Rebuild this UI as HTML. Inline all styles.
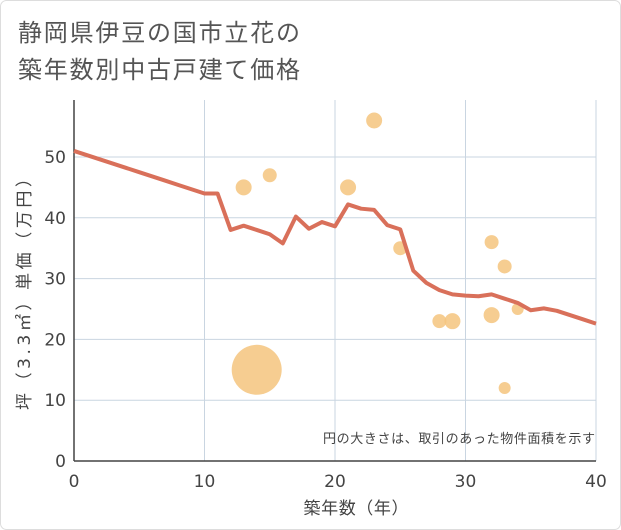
<!DOCTYPE html>
<html><head><meta charset="utf-8"><style>
body{margin:0;background:#fff;}
svg{display:block;font-family:"DejaVu Sans","Noto Sans CJK JP",sans-serif;}
</style></head><body>
<svg id="c" width="621" height="530">
<rect x="0.5" y="0.5" width="620" height="529" rx="6" fill="#fff" stroke="#ddd"/>
<text x="18" y="41" font-size="24" fill="#555" textLength="282">静岡県伊豆の国市立花の</text>
<text x="18" y="78" font-size="24" fill="#555" textLength="282">築年数別中古戸建て価格</text>
<g id="grid"></g><g id="marks"></g>
<text x="595" y="443" font-size="13" fill="#444" text-anchor="end" textLength="272">円の大きさは、取引のあった物件面積を示す</text>
<text x="356" y="514" font-size="17" fill="#444" text-anchor="middle" textLength="105">築年数（年）</text>
<text transform="translate(30,290) rotate(-90)" font-size="17" fill="#444" text-anchor="middle" textLength="240">坪（3.3㎡）単価（万円）</text>
</svg>
<script>
const xTicks=[0,10,20,30,40];
const yTicks=[0,10,20,30,40,50];
const lineX=[0,1,2,3,4,5,6,7,8,9,10,11,12,13,14,15,16,17,18,19,20,21,22,23,24,25,26,27,28,29,30,31,32,33,34,35,36,37,38,39,40];
const lineY=[51,50.3,49.6,48.9,48.2,47.5,46.8,46.1,45.4,44.7,44,44,38,38.7,38,37.3,35.8,40.2,38.2,39.3,38.6,42.2,41.5,41.3,38.8,38.1,31.3,29.3,28.1,27.4,27.2,27.1,27.4,26.7,26,24.8,25.1,24.7,24,23.3,22.6];
const bubX=[13,15,14,21,23,25,28,29,32,32,33,33,34];
const bubY=[45,47,15,45,56,35,23,23,36,24,32,12,25];
const bubR=[8,7,25,8,8,7,7,8,7,8,7,6,6];
const X0=74,X1=596,Y0=461,Y1=100;
const xs=v=>X0+(v/40)*(X1-X0);
const ys=v=>Y0-v*6.08;
const NS="http://www.w3.org/2000/svg";
const g=document.getElementById('grid'),m=document.getElementById('marks');
function mk(t,a,p){const e=document.createElementNS(NS,t);for(const k in a)e.setAttribute(k,a[k]);p.appendChild(e);return e;}
xTicks.forEach(t=>{
 if(t>0){const l=mk('line',{x1:xs(t),x2:xs(t),y1:Y1,y2:Y0,stroke:'#c9d5e1'},g);
 }
 const tx=mk('text',{x:xs(t),y:487,'font-size':17,fill:'#444','text-anchor':'middle'},g);tx.textContent=t;
 
});
yTicks.forEach(t=>{
 if(t>0){const l=mk('line',{x1:X0,x2:X1,y1:ys(t),y2:ys(t),stroke:'#c9d5e1'},g);
 }
 const tx=mk('text',{x:66,y:ys(t)+6,'font-size':17,fill:'#444','text-anchor':'end'},g);tx.textContent=t;
 
});
const ax=mk('line',{x1:X0,x2:X1,y1:Y0,y2:Y0,stroke:'#444','stroke-width':1.5},g);

const ay=mk('line',{x1:X0,x2:X0,y1:Y1,y2:Y0,stroke:'#444','stroke-width':1.5},g);

bubX.forEach((v,i)=>{
 const c=mk('circle',{cx:xs(v),cy:ys(bubY[i]),r:bubR[i],fill:'#f5c47e','fill-opacity':0.85},m);
 
});
const p=mk('polyline',{points:lineX.map((v,i)=>xs(v)+','+ys(lineY[i])).join(' '),fill:'none',stroke:'#d9705a','stroke-width':4,'stroke-linejoin':'round'},m);

</script>
</body></html>
